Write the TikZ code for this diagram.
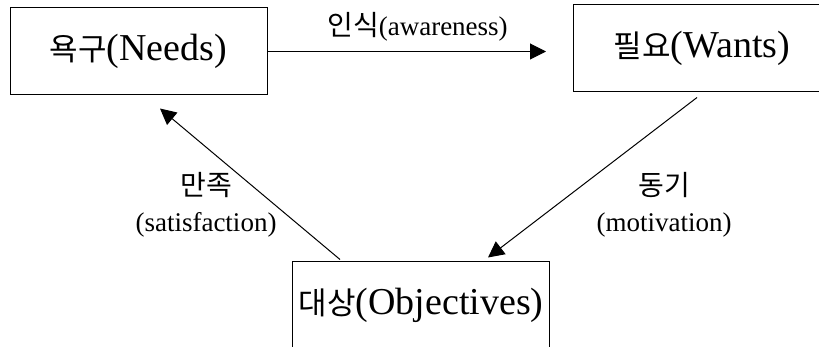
\documentclass[tikz,border=0pt]{standalone}
\usepackage{fontspec}
\setmainfont{Liberation Serif}
\newfontfamily\kr{Noto Sans CJK KR}
\usetikzlibrary{arrows.meta, positioning, calc}
\newcommand{\hb}[1]{{\kr\fontsize{15.5}{18}\selectfont #1}}
\newcommand{\hl}[1]{{\kr\fontsize{14}{16}\selectfont #1}}

\begin{document}
\begin{tikzpicture}[x=0.5pt, y=-0.5pt,
    box/.style={draw, line width=0.5pt, minimum width=128.5pt, minimum height=43.5pt, inner sep=0pt, font=\fontsize{19}{23}\selectfont},
    lbl/.style={align=center, inner sep=0pt, font=\fontsize{13.5}{18}\selectfont},
    arr/.style={-{Triangle[length=8pt, width=8pt]}, line width=0.5pt}]
    \useasboundingbox (0,0) rectangle (819,347);
    \clip (0,0) rectangle (819,347);
    \node[box] (needs) at (138.5,51.5) {\hb{욕구}(Needs)};
    \node[box] (wants) at (702,48.5) {\hb{필요}(Wants)};
    \node[box] (objectives) at (421,305.5) {\hb{대상}(Objectives)};

    \draw[arr, shorten >=13.5pt] (needs.east) -- (needs.east -| wants.west);
    \draw[arr] ([xshift=-2.5pt, yshift=-2.5pt]wants.south) -- ([xshift=33.5pt, yshift=2pt]objectives.north);
    \draw[arr] ([xshift=-40.5pt, yshift=1pt]objectives.north) -- ([xshift=10.75pt, yshift=-6.5pt]needs.south);

    \node[lbl] (aware) at (417.5,27) {\hl{인식}(awareness)};
    \node[lbl] (satis) at (206,205) {\hl{만족}\\(satisfaction)};
    \node[lbl] (motiv) at (664,205) {\hl{동기}\\(motivation)};
\end{tikzpicture}
\end{document}
